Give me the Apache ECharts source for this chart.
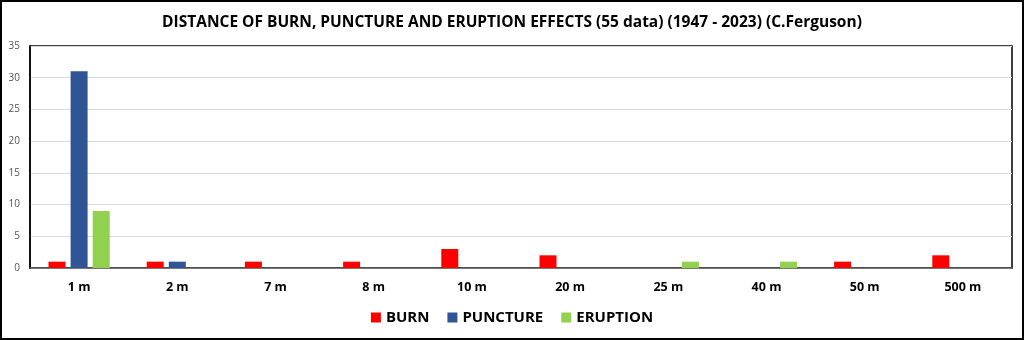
<!DOCTYPE html>
<html>
<head>
<meta charset="utf-8">
<script src="https://cdn.jsdelivr.net/npm/echarts@6/dist/echarts.min.js"></script>
<style>
  html, body { margin: 0; padding: 0; background: #fff; }
  #frame { position: absolute; left: 0; top: 0; width: 1020px; height: 336px; border: 2px solid #000; }
  #chart { width: 1020px; height: 336px; }
</style>
</head>
<body>
<div id="frame"><div id="chart"></div></div>
<script>
const categories = ['1 m', '2 m', '7 m', '8 m', '10 m', '20 m', '25 m', '40 m', '50 m', '500 m'];
const burn     = [1, 1, 1, 1, 3, 2, 0, 0, 1, 2];
const puncture = [31, 1, 0, 0, 0, 0, 0, 0, 0, 0];
const eruption = [9, 0, 0, 0, 0, 0, 1, 1, 0, 0];
const yTicks = { min: 0, max: 35, interval: 5 };

const font = '"Open Sans", "DejaVu Sans", sans-serif';

function barSeries(name, data, color) {
  return {
    name: name,
    type: 'bar',
    data: data.map(v => v === 0 ? null : v),
    barWidth: 17,
    barGap: '30%',
    itemStyle: { color: color },
    emphasis: { disabled: true }
  };
}

const chart = echarts.init(document.getElementById('chart'));
chart.setOption({
  animation: false,
  title: {
    text: 'DISTANCE OF BURN, PUNCTURE AND ERUPTION EFFECTS (55 data) (1947 - 2023) (C.Ferguson)',
    left: 'center',
    top: 8,
    textStyle: { fontFamily: font, fontWeight: 'bold', fontSize: 15.5, color: '#000' }
  },
  legend: {
    bottom: 8,
    left: 'center',
    itemWidth: 10,
    itemHeight: 10,
    itemGap: 18,
    icon: 'rect',
    textStyle: { fontFamily: font, fontWeight: 'bold', fontSize: 15, color: '#000' },
    data: ['BURN', 'PUNCTURE', 'ERUPTION']
  },
  grid: {
    left: 28, right: 10, top: 44, bottom: 70,
    show: true, borderColor: '#000', borderWidth: 1.5
  },
  xAxis: {
    type: 'category',
    data: categories,
    axisTick: { show: false },
    axisLine: { lineStyle: { color: '#555', width: 1.5 } },
    axisLabel: { fontFamily: font, fontWeight: 'bold', fontSize: 12.5, color: '#000', margin: 13 }
  },
  yAxis: {
    type: 'value',
    min: yTicks.min, max: yTicks.max, interval: yTicks.interval,
    axisLine: { show: true, lineStyle: { color: '#000', width: 1.5 } },
    axisLabel: { fontFamily: font, fontSize: 10, color: '#555', margin: 10 },
    splitLine: { lineStyle: { color: '#d9d9d9' } }
  },
  series: [
    barSeries('BURN', burn, '#ff0000'),
    barSeries('PUNCTURE', puncture, '#2f5597'),
    barSeries('ERUPTION', eruption, '#92d050')
  ]
});
</script>
</body>
</html>
